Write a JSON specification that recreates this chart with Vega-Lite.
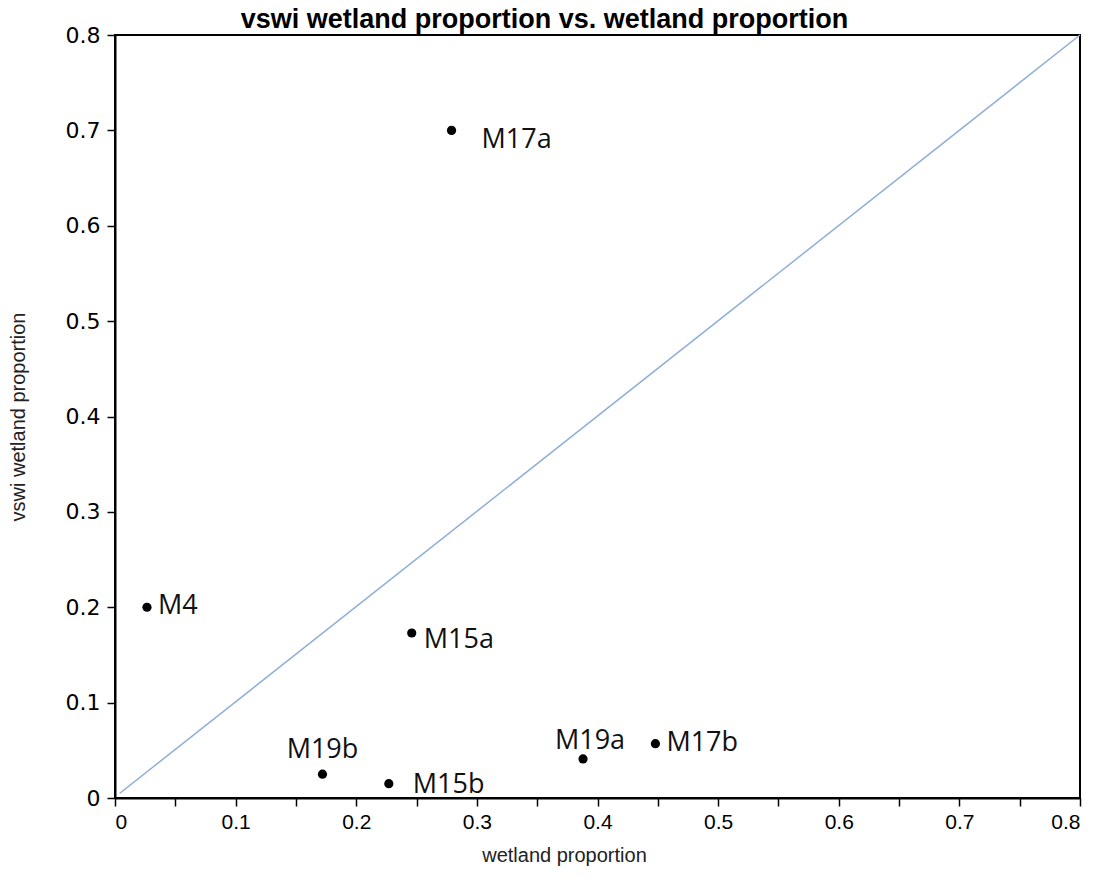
{
  "$schema": "https://vega.github.io/schema/vega-lite/v6.json",
  "autosize": "none",
  "width": 965,
  "height": 763,
  "padding": {"left": 115, "top": 35, "right": 25, "bottom": 86},
  "background": "white",
  "config": {
    "view": {"stroke": "#000", "strokeWidth": 2},
    "axis": {"grid": false, "domainColor": "#000", "domainWidth": 2, "tickColor": "#000", "tickWidth": 1.5, "tickSize": 8, "labelColor": "#000", "titleColor": "#222", "labelFont": "Liberation Sans", "titleFont": "Liberation Sans", "titleFontWeight": "normal"},
    "axisX": {"labelFontSize": 21, "titleFontSize": 20, "labelPadding": 5, "titlePadding": 13, "titleX": 449},
    "axisY": {"labelFont": "DejaVu Sans", "labelFontSize": 22, "titleFontSize": 20, "labelPadding": 7, "titlePadding": 37}
  },
  "title": {"text": "vswi wetland proportion vs. wetland proportion", "font": "Liberation Sans", "fontSize": 27, "fontWeight": "bold", "color": "#000", "anchor": "middle", "offset": -10, "dx": -53},
  "datasets": {
    "pts": [
      {"site": "M17a", "wetland": 0.279, "vswi": 0.700},
      {"site": "M4", "wetland": 0.0265, "vswi": 0.200},
      {"site": "M15a", "wetland": 0.246, "vswi": 0.173},
      {"site": "M19b", "wetland": 0.172, "vswi": 0.025},
      {"site": "M15b", "wetland": 0.227, "vswi": 0.015},
      {"site": "M19a", "wetland": 0.388, "vswi": 0.041},
      {"site": "M17b", "wetland": 0.448, "vswi": 0.057}
    ],
    "diag": [
      {"wetland": 0.004, "vswi": 0.005},
      {"wetland": 0.8, "vswi": 0.8}
    ]
  },
  "encoding": {
    "x": {"field": "wetland", "type": "quantitative", "scale": {"domain": [0, 0.8], "nice": false, "zero": false},
      "axis": {"title": "wetland proportion",
        "values": [0, 0.05, 0.1, 0.15, 0.2, 0.25, 0.3, 0.35, 0.4, 0.45, 0.5, 0.55, 0.6, 0.65, 0.7, 0.75, 0.8],
        "labelExpr": "(round(datum.value*100) % 10 == 0) ? format(datum.value, '~g') : ''"}},
    "y": {"field": "vswi", "type": "quantitative", "scale": {"domain": [0, 0.8], "nice": false, "zero": false},
      "axis": {"title": "vswi wetland proportion",
        "values": [0, 0.1, 0.2, 0.3, 0.4, 0.5, 0.6, 0.7, 0.8], "format": "~g"}}
  },
  "layer": [
    {
      "data": {"name": "diag"},
      "mark": {"type": "line", "color": "#8faed8", "strokeWidth": 1.5}
    },
    {
      "data": {"name": "pts"},
      "mark": {"type": "circle", "color": "#000", "opacity": 1, "size": 85}
    },
    {
      "data": {"name": "pts"},
      "transform": [{"filter": "indexof(['M4','M17b'], datum.site) >= 0"}],
      "mark": {"type": "text", "align": "left", "baseline": "middle", "dx": 11, "dy": -1, "font": "Open Sans", "fontSize": 27, "color": "#111"},
      "encoding": {"text": {"field": "site"}}
    },
    {
      "data": {"name": "pts"},
      "transform": [{"filter": "datum.site == 'M15a'"}],
      "mark": {"type": "text", "align": "left", "baseline": "middle", "dx": 12, "dy": 7, "font": "Open Sans", "fontSize": 27, "color": "#111"},
      "encoding": {"text": {"field": "site"}}
    },
    {
      "data": {"name": "pts"},
      "transform": [{"filter": "datum.site == 'M17a'"}],
      "mark": {"type": "text", "align": "left", "baseline": "middle", "dx": 30, "dy": 10, "font": "Open Sans", "fontSize": 27, "color": "#111"},
      "encoding": {"text": {"field": "site"}}
    },
    {
      "data": {"name": "pts"},
      "transform": [{"filter": "datum.site == 'M15b'"}],
      "mark": {"type": "text", "align": "left", "baseline": "middle", "dx": 24, "dy": 1, "font": "Open Sans", "fontSize": 27, "color": "#111"},
      "encoding": {"text": {"field": "site"}}
    },
    {
      "data": {"name": "pts"},
      "transform": [{"filter": "datum.site == 'M19b'"}],
      "mark": {"type": "text", "align": "center", "baseline": "middle", "dx": 0, "dy": -24, "font": "Open Sans", "fontSize": 27, "color": "#111"},
      "encoding": {"text": {"field": "site"}}
    },
    {
      "data": {"name": "pts"},
      "transform": [{"filter": "datum.site == 'M19a'"}],
      "mark": {"type": "text", "align": "center", "baseline": "middle", "dx": 7, "dy": -18, "font": "Open Sans", "fontSize": 27, "color": "#111"},
      "encoding": {"text": {"field": "site"}}
    }
  ]
}
